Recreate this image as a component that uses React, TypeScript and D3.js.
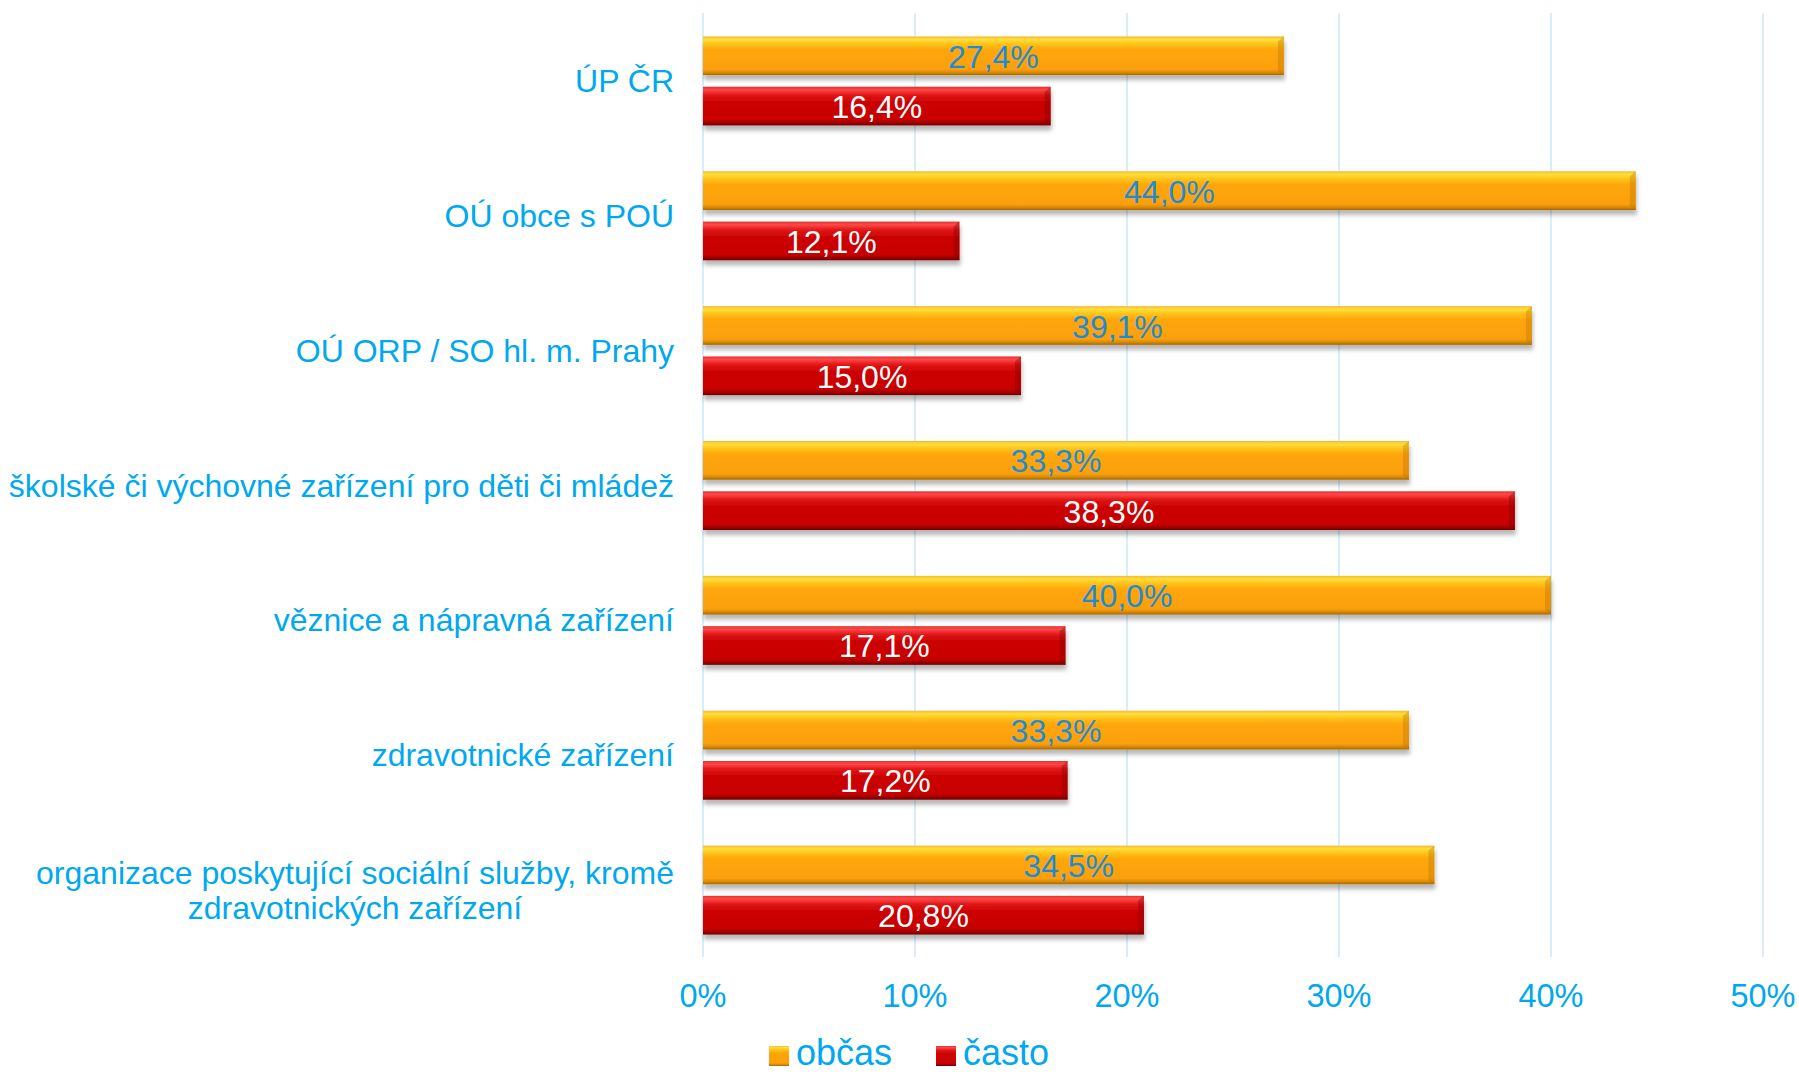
import React from "react";
import * as d3 from "d3";

const categories = [
  "ÚP ČR",
  "OÚ obce s POÚ",
  "OÚ ORP / SO hl. m. Prahy",
  "školské či výchovné zařízení pro děti či mládež",
  "věznice a nápravná zařízení",
  "zdravotnické zařízení",
  "organizace poskytující sociální služby, kromě|zdravotnických zařízení",
];
const seriesNames = ["občas", "často"];
const obcas = [27.4, 44.0, 39.1, 33.3, 40.0, 33.3, 34.5];
const casto = [16.4, 12.1, 15.0, 38.3, 17.1, 17.2, 20.8];
const ticks = [0, 10, 20, 30, 40, 50];

const W = 1799;
const H = 1074;
const FONT = "'Liberation Sans', Arial, sans-serif";

export default function App() {
  const x = d3.scaleLinear().domain([0, 50]).range([703, 1763]);
  const y = d3.scaleBand<string>().domain(categories).range([13, 957]);
  const inner = d3.scaleBand<string>().domain(seriesNames).range([0, 89]).paddingInner(0.23);
  const off = (y.bandwidth() - 89) / 2 + 0.5;
  const series = [
    { name: "občas", values: obcas, grad: "gO", edge: "#B87400", label: "#1C8CD8" },
    { name: "často", values: casto, grad: "gR", edge: "#7A0000", label: "#FFFFFF" },
  ];
  const bh = inner.bandwidth();
  const fmt = (v: number) => v.toFixed(1).replace(".", ",") + "%";

  return (
    <svg width={W} height={H} style={{ position: "absolute", left: 0, top: 0, background: "#fff" }}>
      <defs>
        <linearGradient id="gO" x1="0" y1="0" x2="0" y2="1">
          <stop offset="0" stopColor="#F7B733" />
          <stop offset="0.08" stopColor="#FFE03A" />
          <stop offset="0.2" stopColor="#FFC21A" />
          <stop offset="0.35" stopColor="#FFA60A" />
          <stop offset="0.85" stopColor="#FBA00A" />
          <stop offset="0.93" stopColor="#D98A06" />
          <stop offset="1" stopColor="#A86A05" />
        </linearGradient>
        <linearGradient id="gR" x1="0" y1="0" x2="0" y2="1">
          <stop offset="0" stopColor="#E83030" />
          <stop offset="0.08" stopColor="#FF4848" />
          <stop offset="0.22" stopColor="#E01515" />
          <stop offset="0.38" stopColor="#CC0505" />
          <stop offset="0.85" stopColor="#C80404" />
          <stop offset="0.93" stopColor="#A00202" />
          <stop offset="1" stopColor="#700000" />
        </linearGradient>
        <filter id="sh" x="-5%" y="-30%" width="110%" height="180%">
          <feDropShadow dx="1" dy="5" stdDeviation="2" floodColor="#000" floodOpacity="0.28" />
        </filter>
      </defs>
      {ticks.map((t) => (
        <line key={"g" + t} x1={x(t)} x2={x(t)} y1={13} y2={957} stroke="#C8E8FB" strokeWidth={1.5} />
      ))}
      {categories.map((c, i) => {
        const y0 = (y(c) as number) + off;
        return (
          <g key={c}>
            {series.map((s) => {
              const by = y0 + (inner(s.name) as number);
              const w = x(s.values[i]) - x(0);
              return (
                <g key={s.name}>
                  <rect x={x(0)} y={by} width={w} height={bh} fill={`url(#${s.grad})`} filter="url(#sh)" />
                  <polygon
                    points={`${x(0) + w - 6},${by + 5} ${x(0) + w},${by} ${x(0) + w},${by + bh} ${x(0) + w - 6},${by + bh - 4}`}
                    fill={s.edge}
                    opacity={0.35}
                  />
                  <text
                    x={x(0) + w / 2}
                    y={by + bh / 2 + 12}
                    textAnchor="middle"
                    fontFamily={FONT}
                    fontSize={32}
                    fill={s.label}
                  >
                    {fmt(s.values[i])}
                  </text>
                </g>
              );
            })}
          </g>
        );
      })}
      {categories.map((c) => {
        const cy = (y(c) as number) + y.bandwidth() / 2;
        const lines = c.split("|");
        if (lines.length === 1) {
          return (
            <text key={"l" + c} x={674} y={cy + 11.5} textAnchor="end" fontFamily={FONT} fontSize={32} fill="#00A8F0">
              {c}
            </text>
          );
        }
        return (
          <text key={"l" + c} x={355} textAnchor="middle" fontFamily={FONT} fontSize={32} fill="#00A8F0">
            {lines.map((ln, k) => (
              <tspan key={k} x={355} y={cy + 11.5 - 17.5 + k * 35}>
                {ln}
              </tspan>
            ))}
          </text>
        );
      })}
      {ticks.map((t) => (
        <text key={"t" + t} x={x(t)} y={1007} textAnchor="middle" fontFamily={FONT} fontSize={32.5} fill="#00A8F0">
          {t + "%"}
        </text>
      ))}
      {series.map((s, k) => {
        const lx = k === 0 ? 769 : 936;
        return (
          <g key={"lg" + s.name}>
            <rect x={lx} y={1046} width={20} height={20} fill={`url(#${s.grad})`} />
            <text x={lx + 27} y={1065} fontFamily={FONT} fontSize={36} fill="#00A8F0">
              {s.name}
            </text>
          </g>
        );
      })}
    </svg>
  );
}
